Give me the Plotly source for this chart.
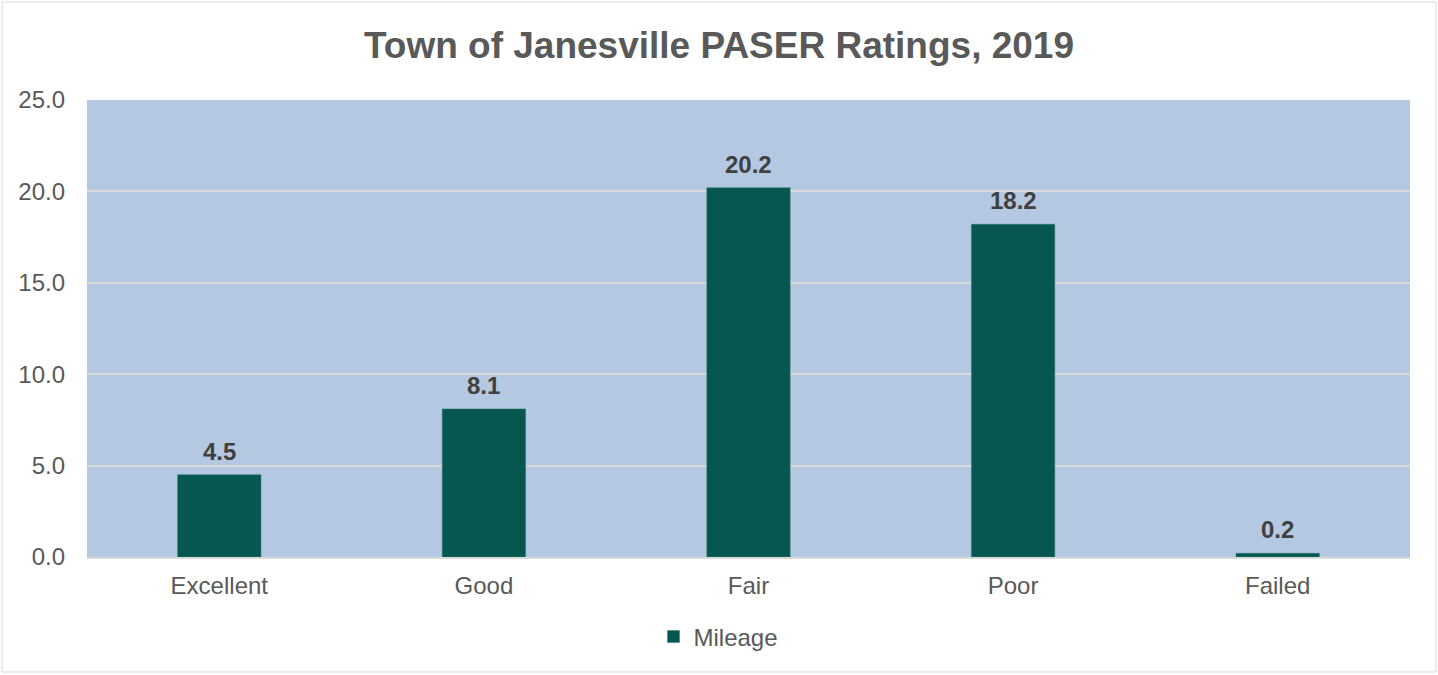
import plotly.graph_objects as go

categories = ["Excellent", "Good", "Fair", "Poor", "Failed"]
mileage = [4.5, 8.1, 20.2, 18.2, 0.2]
y_ticks = [0, 5, 10, 15, 20, 25]

bar_color = "#06574F"
text_gray = "#595959"
FONT = "Liberation Sans, Arial"

fig = go.Figure()
fig.add_trace(go.Bar(
    x=categories, y=mileage, name="Mileage",
    marker=dict(color=bar_color, line=dict(color="#2F7A72", width=0.5)),
    width=0.315, showlegend=True,
))

for c, v in zip(categories, mileage):
    fig.add_annotation(x=c, y=v, text=f"<b>{v:.1f}</b>", showarrow=False,
                       yanchor="bottom", yshift=8,
                       font=dict(family=FONT, size=24, color="#404040"))

fig.add_shape(type="rect", xref="paper", yref="paper",
              x0=(2 - 87) / 1323, x1=(1436 - 87) / 1323,
              y0=(557 - 672) / 457, y1=(557 - 2) / 457,
              line=dict(color="#D9D9D9", width=1), fillcolor="rgba(0,0,0,0)", layer="below")

fig.update_layout(
    width=1438, height=675,
    margin=dict(l=87, r=28, t=100, b=118),
    paper_bgcolor="white",
    plot_bgcolor="#B4C8E2",
    title=dict(text="<b>Town of Janesville PASER Ratings, 2019</b>", x=0.5, xanchor="center",
               y=1 - 45 / 675, yanchor="middle",
               font=dict(family=FONT, size=37, color=text_gray)),
    font=dict(family=FONT, size=24, color=text_gray),
    bargap=0.685,
    showlegend=True,
    legend=dict(orientation="h", x=0.5 - 30 / 1323, xanchor="center", y=(557 - 637) / 457,
                yanchor="middle", font=dict(size=24, color=text_gray), itemwidth=30),
    xaxis=dict(showgrid=False, showline=True, linecolor="#D9D9D9", linewidth=2,
               ticks="", tickfont=dict(size=24, color=text_gray), ticklabelstandoff=6),
    yaxis=dict(range=[0, 25], tickvals=y_ticks, tickformat=".1f",
               showgrid=True, gridcolor="#D9D9D9", gridwidth=1.5,
               zeroline=False, showline=False, ticks="",
               tickfont=dict(size=24, color=text_gray), ticklabelstandoff=21),
)

fig.write_html("out.html", config={"displayModeBar": False},
               post_script="document.body.style.margin='0';")
